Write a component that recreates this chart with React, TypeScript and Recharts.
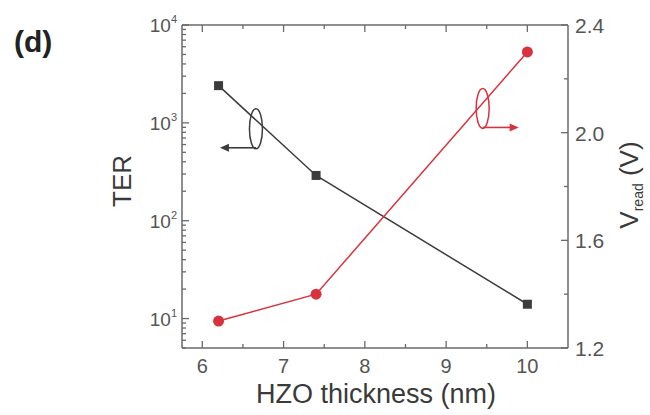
import React from 'react';
import { LineChart, Line, XAxis, YAxis, ReferenceLine, ReferenceDot } from 'recharts';

// HZO thickness (nm) and the two measured quantities
const thickness = [6.2, 7.4, 10];
const terValues = [2400, 290, 14];
const vReadValues = [1.3, 1.4, 2.3];

const xTicks = [6, 6.5, 7, 7.5, 8, 8.5, 9, 9.5, 10];
const terTicks = [
  5, 6, 7, 8, 9, 10, 20, 30, 40, 50, 60, 70, 80, 90, 100, 200, 300, 400, 500, 600, 700, 800, 900,
  1000, 2000, 3000, 4000, 5000, 6000, 7000, 8000, 9000, 10000,
];
const vTicks = [1.2, 1.4, 1.6, 1.8, 2.0, 2.2, 2.4];

const data = thickness.map((t, i) => ({ t, ter: terValues[i], v: vReadValues[i] }));

const AXIS = '#6a6a6a';
const TICK = '#555';
const TITLE = '#3a3a3a';
const BLACK = '#3c3c3c';
const RED = '#d8323c';
const FONT = '"Liberation Sans", Arial, sans-serif';
const PLOT_TOP = 25;

const BottomTick = (props: any) => {
  const { x, y, payload } = props;
  const v = payload.value;
  const major = Number.isInteger(v);
  const len = major ? 7 : 4;
  return (
    <g>
      <line x1={x} x2={x} y1={y} y2={y - len} stroke={AXIS} strokeWidth={1.3} />
      <line x1={x} x2={x} y1={PLOT_TOP} y2={PLOT_TOP + len} stroke={AXIS} strokeWidth={1.3} />
      {major && (
        <text x={x} y={y + 25} textAnchor="middle" fontSize={20} fill={TICK} fontFamily={FONT}>
          {v}
        </text>
      )}
    </g>
  );
};

const LeftTick = (props: any) => {
  const { x, y, payload } = props;
  const v = payload.value;
  const exp = Math.log10(v);
  const major = Math.abs(exp - Math.round(exp)) < 1e-6;
  const len = major ? 7 : 4;
  return (
    <g>
      <line x1={x} x2={x + len} y1={y} y2={y} stroke={AXIS} strokeWidth={1.3} />
      {major && (
        <text x={x - 5} y={y + 7} textAnchor="end" fontSize={19} fill={TICK} fontFamily={FONT}>
          10
          <tspan dy={-9} fontSize={11}>
            {Math.round(exp)}
          </tspan>
        </text>
      )}
    </g>
  );
};

const RightTick = (props: any) => {
  const { x, y, payload } = props;
  const v = payload.value;
  const major = Math.round(v * 10) % 4 === 0;
  const len = major ? 7 : 4;
  return (
    <g>
      <line x1={x} x2={x - len} y1={y} y2={y} stroke={AXIS} strokeWidth={1.3} />
      {major && (
        <text x={x + 7} y={y + 8} textAnchor="start" fontSize={21} fill={TICK} fontFamily={FONT}>
          {v.toFixed(1)}
        </text>
      )}
    </g>
  );
};

const Square = (props: any) => {
  const { cx, cy, index } = props;
  return <rect key={`sq-${index}`} x={cx - 4.5} y={cy - 4.5} width={9} height={9} fill={BLACK} />;
};

const Circle = (props: any) => {
  const { cx, cy, index } = props;
  return <circle key={`ci-${index}`} cx={cx} cy={cy} r={5.5} fill={RED} />;
};

// ellipse around a curve with an arrow pointing to its axis
const Marker = (color: string, dir: number) => (props: any) => {
  const { cx, cy } = props;
  const ay = cy + 19;
  const end = cx + dir * 36;
  return (
    <g>
      <ellipse cx={cx} cy={cy} rx={6.5} ry={20} fill="none" stroke={color} strokeWidth={1.5} />
      <line x1={cx} y1={ay} x2={end - dir * 6} y2={ay} stroke={color} strokeWidth={1.6} />
      <path d={`M${end},${ay} L${end - dir * 9},${ay - 4} L${end - dir * 9},${ay + 4} Z`} fill={color} />
    </g>
  );
};

export default function App() {
  return (
    <div style={{ position: 'absolute', left: 0, top: 0, width: 650, height: 415, background: '#fff' }}>
      <div
        style={{
          position: 'absolute',
          left: 14,
          top: 27,
          fontFamily: FONT,
          fontWeight: 'bold',
          fontSize: 30,
          color: '#222',
          lineHeight: 1,
        }}
      >
        (d)
      </div>
      <LineChart width={650} height={415} data={data} margin={{ top: PLOT_TOP, right: 0, bottom: 0, left: 0 }}>
        <XAxis
          dataKey="t"
          type="number"
          domain={[5.75, 10.5]}
          ticks={xTicks}
          interval={0}
          allowDataOverflow
          height={67}
          tickSize={0}
          tickMargin={0}
          tickLine={false}
          tick={BottomTick}
          axisLine={{ stroke: AXIS, strokeWidth: 1.5 }}
          label={{
            content: () => (
              <text x={376} y={403} textAnchor="middle" fontSize={27} fill={TITLE} fontFamily={FONT}>
                HZO thickness (nm)
              </text>
            ),
          }}
        />
        <YAxis
          yAxisId="left"
          orientation="left"
          scale="log"
          domain={[5, 10000]}
          ticks={terTicks}
          interval={0}
          allowDataOverflow
          width={182}
          tickSize={0}
          tickMargin={0}
          tickLine={false}
          tick={LeftTick}
          axisLine={{ stroke: AXIS, strokeWidth: 1.5 }}
          label={{
            content: () => (
              <text
                x={131}
                y={181}
                textAnchor="middle"
                fontSize={26}
                fill={TITLE}
                fontFamily={FONT}
                transform="rotate(-90 131 181)"
              >
                TER
              </text>
            ),
          }}
        />
        <YAxis
          yAxisId="right"
          orientation="right"
          domain={[1.2, 2.4]}
          ticks={vTicks}
          interval={0}
          allowDataOverflow
          width={82}
          tickSize={0}
          tickMargin={0}
          tickLine={false}
          tick={RightTick}
          axisLine={{ stroke: AXIS, strokeWidth: 1.5 }}
          label={{
            content: () => (
              <text
                x={638}
                y={185}
                textAnchor="middle"
                fontSize={26}
                fill={TITLE}
                fontFamily={FONT}
                transform="rotate(-90 638 185)"
              >
                V
                <tspan dy={5} fontSize={14}>
                  read
                </tspan>
                <tspan dy={-5}> (V)</tspan>
              </text>
            ),
          }}
        />
        <ReferenceLine yAxisId="left" y={10000} stroke={AXIS} strokeWidth={1.5} />
        <Line
          yAxisId="left"
          dataKey="ter"
          stroke={BLACK}
          strokeWidth={1.5}
          dot={Square}
          activeDot={false}
          isAnimationActive={false}
        />
        <Line
          yAxisId="right"
          dataKey="v"
          stroke={RED}
          strokeWidth={1.5}
          dot={Circle}
          activeDot={false}
          isAnimationActive={false}
        />
        <ReferenceDot yAxisId="left" x={6.66} y={870} shape={Marker(BLACK, -1)} />
        <ReferenceDot yAxisId="right" x={9.45} y={2.09} shape={Marker(RED, 1)} />
      </LineChart>
    </div>
  );
}
